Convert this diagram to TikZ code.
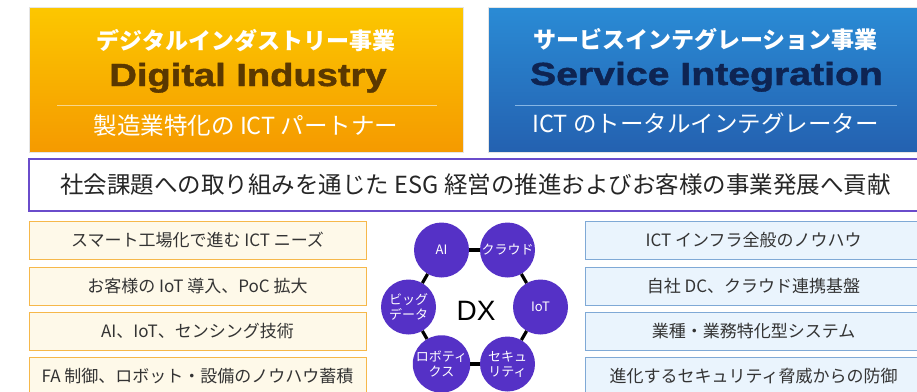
\documentclass[tikz,border=0pt]{standalone}
\usepackage{fontspec}
\setmainfont{Noto Sans CJK JP}
\newfontfamily\latb{Liberation Sans}[UprightFont={* Bold}, FakeBold=1.3]
\newfontfamily\dxf{Liberation Sans}
\definecolor{orTop}{HTML}{FCC700}
\definecolor{orBot}{HTML}{F59A00}
\definecolor{blTop}{HTML}{2A8BD5}
\definecolor{blBot}{HTML}{2461B0}
\definecolor{purp}{HTML}{6A4CCB}
\definecolor{circ}{HTML}{5531C6}
\definecolor{creamF}{HTML}{FEF9E9}
\definecolor{creamB}{HTML}{F6B84A}
\definecolor{blueF}{HTML}{EAF4FD}
\definecolor{blueB}{HTML}{7FA9D6}
\definecolor{brownT}{HTML}{5A3800}
\definecolor{navyT}{HTML}{0E2452}
\definecolor{txt}{HTML}{333333}
\definecolor{orSep}{HTML}{F8D68A}
\definecolor{blSep}{HTML}{86B6E4}
\begin{document}
\begin{tikzpicture}[x=1pt,y=-1pt,
  topbox/.style={draw=black!10, line width=0.6pt, minimum width=434pt, minimum height=145pt, inner sep=0pt},
  leftbox/.style={draw=creamB, fill=creamF, line width=1pt, minimum width=337pt, minimum height=38pt, inner sep=0pt, text=txt, font=\fontsize{17}{17}\selectfont},
  rightbox/.style={draw=blueB, fill=blueF, line width=1pt, minimum width=337pt, minimum height=38pt, inner sep=0pt, text=txt, font=\fontsize{17}{17}\selectfont},
  dxnode/.style={circle, fill=circ, minimum size=55pt, inner sep=0pt, text=white, align=center, font=\fontsize{13}{15}\selectfont},
  link/.style={line width=3.2pt, black},
  jtitle/.style={text=white, inner sep=0pt, font=\fontsize{23}{23}\selectfont\bfseries},
  jsub/.style={text=white, inner sep=0pt, font=\fontsize{23.5}{23.5}\selectfont}
]
\useasboundingbox (0,0) rectangle (917,391);
\clip (0,0) rectangle (917,391);
% top boxes
\node[topbox, top color=orTop, bottom color=orBot] (di) at (246,79.5) {};
\node[topbox, top color=blTop, bottom color=blBot] (si) at (705.5,79.5) {};
\draw[orSep, line width=1pt] (57,105) -- (437,105);
\draw[blSep, line width=1pt] (515,105) -- (897,105);
\node[jtitle] (dit) at (246,41) {デジタルインダストリー事業};
\node[anchor=base, inner sep=0pt, text=brownT] (din) at (248,86) {\latb\fontsize{32}{32}\selectfont\scalebox{1.19}[1]{Digital Industry}};
\node[jsub] (dis) at (246,126) {製造業特化の ICT パートナー};
\node[jtitle] (sit) at (705.5,39.5) {サービスインテグレーション事業};
\node[anchor=base, inner sep=0pt, text=navyT] (sin) at (706.5,85) {\latb\fontsize{32}{32}\selectfont\scalebox{1.225}[1]{Service Integration}};
\node[jsub] (sis) at (705.5,123) {ICT のトータルインテグレーター};
% purple mission box
\node[draw=purp, line width=2pt, fill=white, minimum width=893pt, minimum height=52pt, inner sep=0pt, text=black!85, font=\fontsize{23.5}{23.5}\selectfont] (esg) at (475.5,185) {社会課題への取り組みを通じた ESG 経営の推進およびお客様の事業発展へ貢献};
% left boxes
\node[leftbox] (l1) at (197.5,240) {スマート工場化で進む ICT ニーズ};
\node[leftbox] (l2) at (197.5,286) {お客様の IoT 導入、PoC 拡大};
\node[leftbox] (l3) at (197.5,331) {AI、IoT、センシング技術};
\node[leftbox] (l4) at (197.5,376) {FA 制御、ロボット・設備のノウハウ蓄積};
% right boxes
\node[rightbox] (r1) at (753.5,240) {ICT インフラ全般のノウハウ};
\node[rightbox] (r2) at (753.5,286) {自社 DC、クラウド連携基盤};
\node[rightbox] (r3) at (753.5,331) {業種・業務特化型システム};
\node[rightbox] (r4) at (753.5,376) {進化するセキュリティ脅威からの防御};
% DX hexagon
\node[dxnode] (ai) at (441.5,250) {AI};
\node[dxnode] (cl) at (507.5,250) {クラウド};
\node[dxnode] (iot) at (540.5,307) {IoT};
\node[dxnode] (sec) at (507.5,364) {セキュ\\リティ};
\node[dxnode] (rob) at (441.5,364) {ロボティ\\クス};
\node[dxnode] (big) at (408.5,307) {ビッグ\\データ};
\draw[link] (ai) -- (cl);
\draw[link] (cl) -- (iot);
\draw[link] (iot) -- (sec);
\draw[link] (sec) -- (rob);
\draw[link] (rob) -- (big);
\draw[link] (big) -- (ai);
\node[anchor=base, inner sep=0pt, text=black] (dx) at (476,320) {\dxf\fontsize{28}{28}\selectfont DX};
\end{tikzpicture}
\end{document}
